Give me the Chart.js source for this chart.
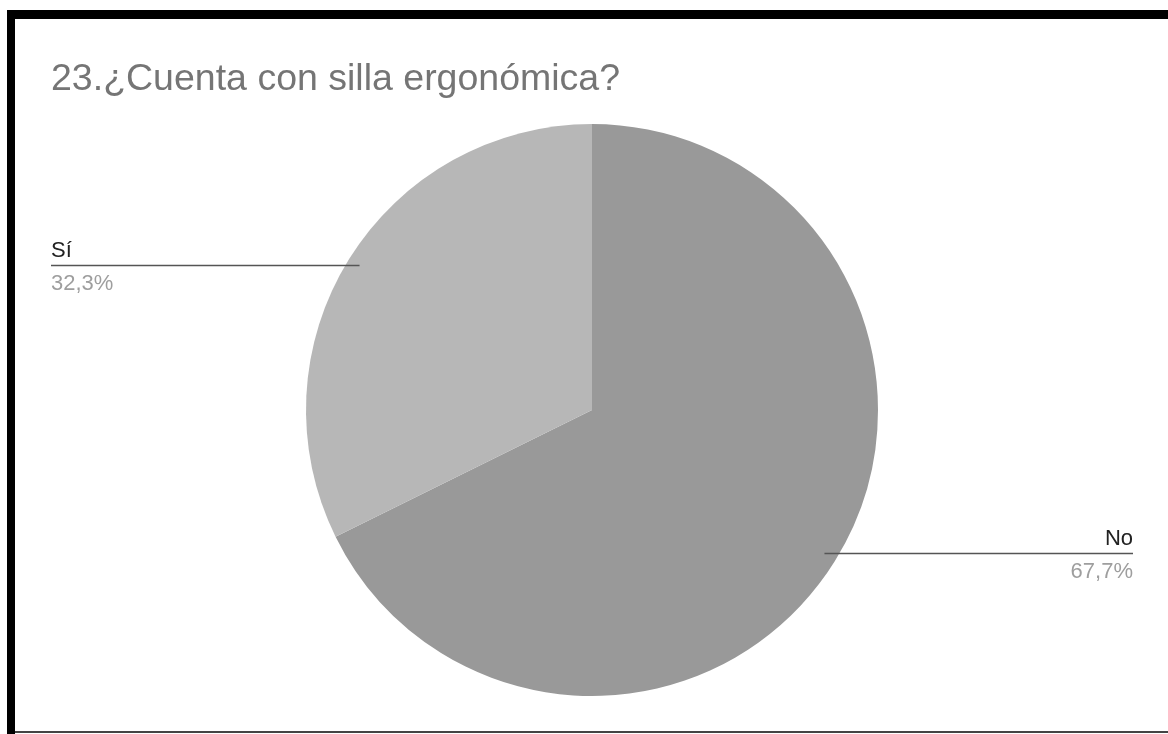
<!DOCTYPE html>
<html>
<head>
<meta charset="utf-8">
<script src="https://cdn.jsdelivr.net/npm/chart.js@4"></script>
<style>
  html, body { margin: 0; padding: 0; background: #fff; }
  #wrap { position: relative; width: 1168px; height: 734px; }
</style>
</head>
<body>
<div id="wrap"><canvas id="c" width="1168" height="734"></canvas></div>
<script>
const title = "23.¿Cuenta con silla ergonómica?";
const categories = ["No", "Sí"];
const values = [67.7, 32.3];
const valueLabels = ["67,7%", "32,3%"];
const colors = ["#999999", "#b7b7b7"];

const FONT = '"Liberation Sans", Arial, sans-serif';

const decorPlugin = {
  id: 'decor',
  beforeDraw(chart) {
    const ctx = chart.ctx;
    ctx.save();
    ctx.fillStyle = '#fff';
    ctx.fillRect(0, 0, chart.width, chart.height);
    // frame
    ctx.fillStyle = '#000';
    ctx.fillRect(7, 10, 1161, 9);
    ctx.fillRect(7, 10, 8, 724);
    ctx.fillStyle = '#444';
    ctx.fillRect(15, 731, 1153, 2);
    // title
    ctx.fillStyle = '#757575';
    ctx.font = '37.5px ' + FONT;
    ctx.textBaseline = 'alphabetic';
    ctx.textAlign = 'left';
    ctx.fillText(title, 51, 90);
    ctx.restore();
  },
  afterDatasetsDraw(chart) {
    const ctx = chart.ctx;
    const meta = chart.getDatasetMeta(0);
    ctx.save();
    meta.data.forEach((arc, i) => {
      const p = arc.getProps(['x', 'y', 'startAngle', 'endAngle', 'outerRadius'], true);
      const mid = (p.startAngle + p.endAngle) / 2;
      const r = p.outerRadius * 0.957;
      const ax = p.x + Math.cos(mid) * r;
      const ay = p.y + Math.sin(mid) * r;
      const right = Math.cos(mid) > 0;
      const ex = right ? 1133 : 51;
      const ly = Math.round(ay) - 1;
      ctx.strokeStyle = '#555';
      ctx.lineWidth = 1.3;
      ctx.beginPath();
      ctx.moveTo(ax, ly + 0.5);
      ctx.lineTo(ex, ly + 0.5);
      ctx.stroke();
      ctx.font = '22px ' + FONT;
      ctx.textAlign = right ? 'right' : 'left';
      ctx.textBaseline = 'alphabetic';
      ctx.fillStyle = '#222';
      ctx.fillText(categories[i], ex, ly - 8);
      ctx.fillStyle = '#9e9e9e';
      ctx.fillText(valueLabels[i], ex, ly + 25);
    });
    ctx.restore();
  }
};

new Chart(document.getElementById('c'), {
  type: 'pie',
  data: {
    labels: categories,
    datasets: [{
      data: values,
      backgroundColor: colors,
      borderWidth: 0
    }]
  },
  options: {
    responsive: false,
    animation: false,
    layout: { padding: { left: 306, right: 290, top: 124, bottom: 38 } },
    plugins: {
      legend: { display: false },
      title: { display: false },
      tooltip: { enabled: false }
    }
  },
  plugins: [decorPlugin]
});
</script>
</body>
</html>
